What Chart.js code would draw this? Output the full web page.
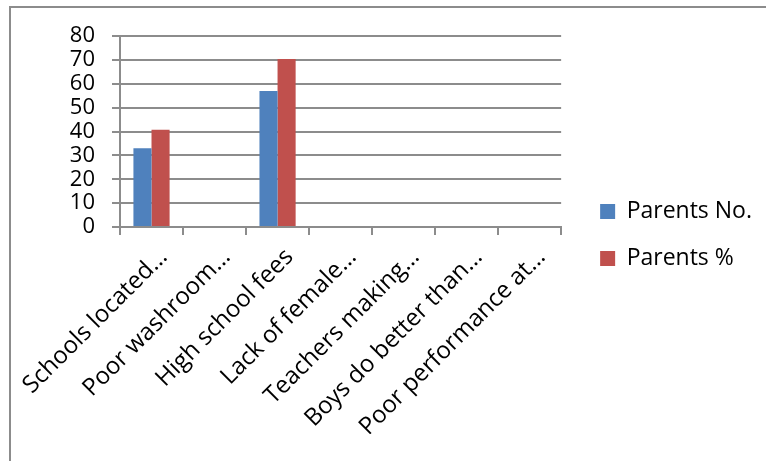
<!DOCTYPE html>
<html>
<head>
<meta charset="utf-8">
<script src="https://cdn.jsdelivr.net/npm/chart.js@4"></script>
<style>
  body { margin: 0; background: #fff; }
  #wrap { position: relative; width: 766px; height: 461px; }
  #frame { position: absolute; left: 9px; top: 6px; width: 800px; height: 500px;
           border-left: 2px solid #8c8c8c; border-top: 2px solid #8c8c8c; }
  canvas { position: absolute; left: 0; top: 0; }
</style>
</head>
<body>
<div id="wrap">
  <div id="frame"></div>
  <canvas id="myChart" width="766" height="461"></canvas>
</div>
<script>
const categories = ['Schools located…', 'Poor washroom…', 'High school fees', 'Lack of female…',
                    'Teachers making…', 'Boys do better than…', 'Poor performance at…'];
const parentsNo = [33, 0, 57, 0, 0, 0, 0];
const parentsPct = [40.7, 0, 70.4, 0, 0, 0, 0];
const yMax = 80;
const yStep = 10;

const gridGray = '#8c8c8c';
const fontFamily = "'Open Sans', sans-serif";

const data = {
  labels: categories,
  datasets: [{
    label: 'Parents No.',
    data: parentsNo,
    backgroundColor: '#4f81bd'
  }, {
    label: 'Parents %',
    data: parentsPct,
    backgroundColor: '#c0504d'
  }]
};

const config = {
  type: 'bar',
  data: data,
  options: {
    responsive: false,
    animation: false,
    categoryPercentage: 0.574,
    barPercentage: 1,
    layout: { padding: { top: 36, left: 0, right: 4, bottom: 27 } },
    plugins: {
      tooltip: { enabled: false },
      legend: {
        position: 'right',
        align: 'center',
        maxWidth: 220,
        labels: {
          boxWidth: 15,
          boxHeight: 15,
          padding: 24,
          color: '#000',
          font: { family: fontFamily, size: 23 }
        }
      }
    },
    scales: {
      x: {
        grid: { drawOnChartArea: false, color: gridGray, lineWidth: 2, tickLength: 8 },
        border: { color: gridGray, width: 2 },
        ticks: {
          color: '#000',
          maxRotation: 45,
          minRotation: 45,
          autoSkip: false,
          padding: 8,
          labelOffset: 12,
          font: { family: fontFamily, size: 24 }
        },
        afterFit: function(scale) {
          scale.height = 207;
          scale.paddingLeft = 0;
          scale.paddingRight = 0;
        }
      },
      y: {
        min: 0,
        max: yMax,
        grid: { color: gridGray, lineWidth: 2, tickLength: 8 },
        border: { color: gridGray, width: 2 },
        ticks: {
          stepSize: yStep,
          autoSkip: false,
          color: '#000',
          padding: 17,
          font: { family: fontFamily, size: 22 }
        },
        afterFit: function(scale) { scale.width = 120; }
      },
      // empty axis on the right, only to leave the gap before the legend
      gap: {
        type: 'linear',
        position: 'right',
        grid: { display: false },
        border: { display: false },
        ticks: { display: false },
        afterFit: function(scale) { scale.width = 15; }
      }
    }
  }
};

let c = document.getElementById('myChart').getContext('2d');
new Chart(c, config);
</script>
</body>
</html>
